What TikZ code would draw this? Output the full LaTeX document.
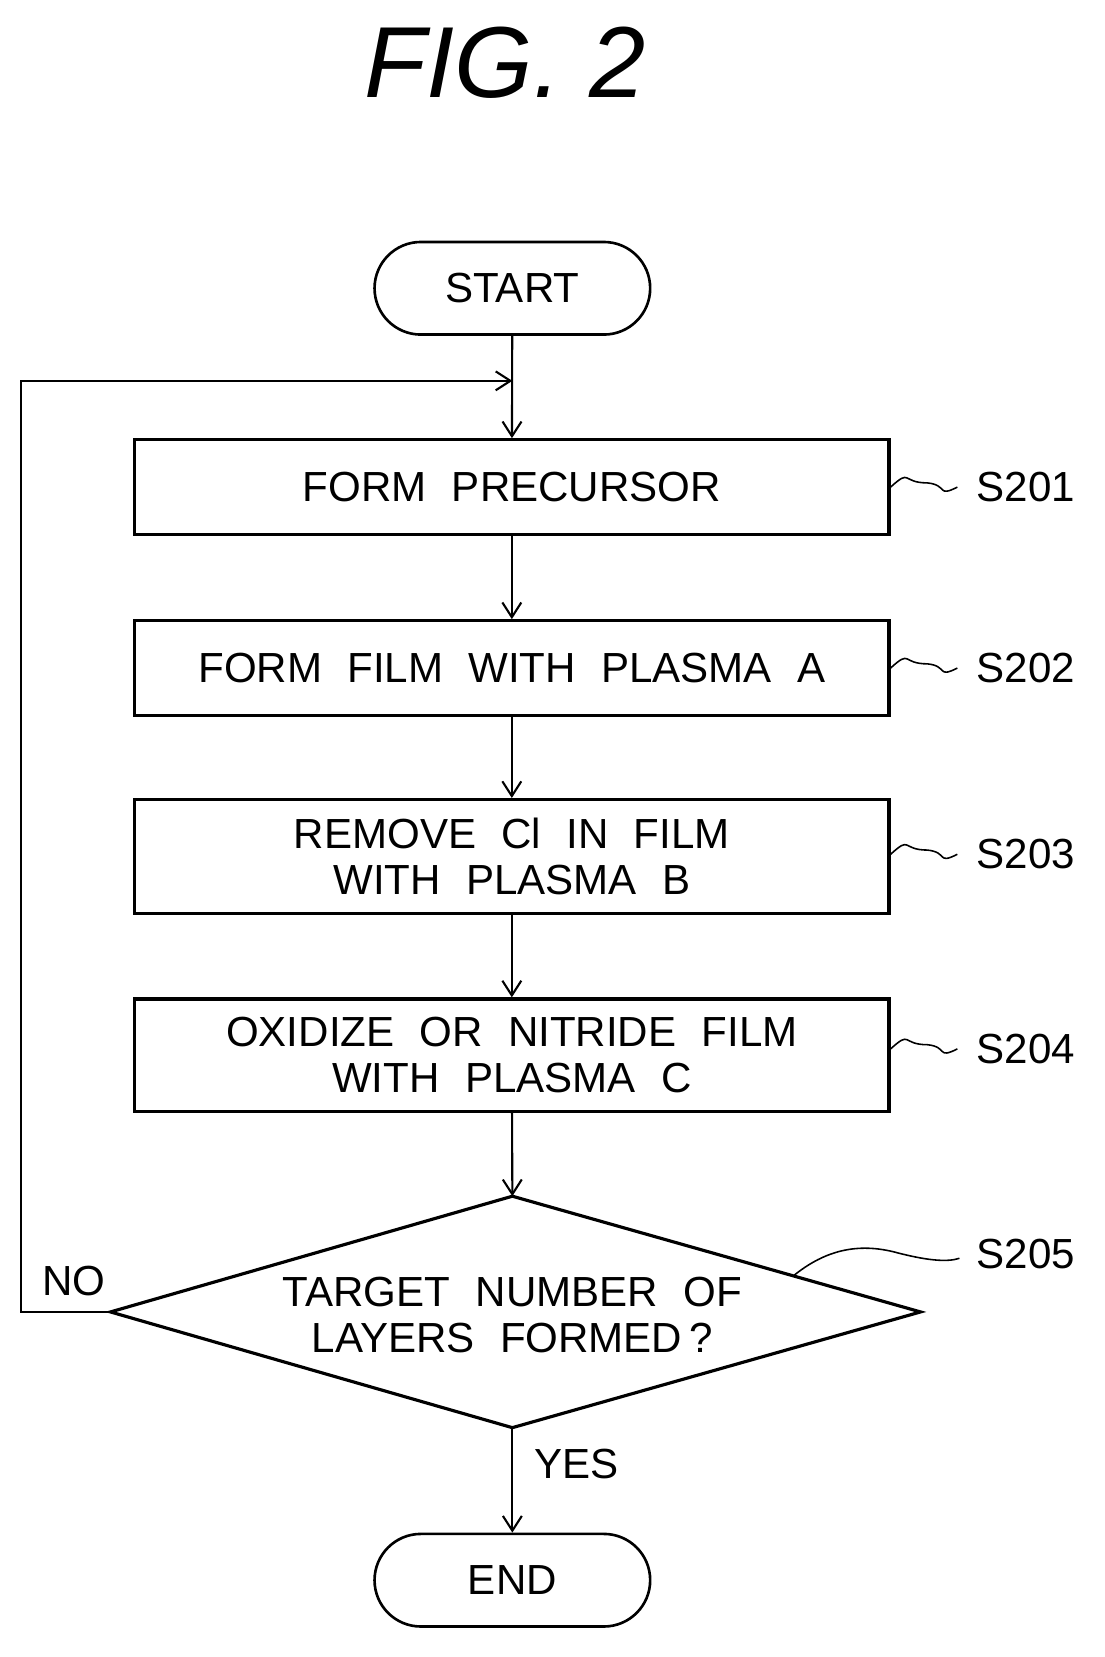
\documentclass[tikz,border=0pt]{standalone}
\usepackage{fontspec}
\setmainfont{Liberation Sans}
\usetikzlibrary{shapes.geometric,arrows.meta}
\begin{document}
\begin{tikzpicture}[x=1pt,y=-1pt,
  box/.style={draw,line width=3pt,minimum width=717pt,align=center,font=\fontsize{40}{44}\selectfont},
  term/.style={draw,line width=2.5pt,rounded corners=44pt,minimum width=262pt,minimum height=88pt,font=\fontsize{40}{44}\selectfont},
  arr/.style={line width=2pt,-{Straight Barb[length=14pt,width=18pt,line width=2pt]}},
  lead/.style={line width=1.5pt},
  lab/.style={font=\fontsize{40}{44}\selectfont,anchor=west}]
\useasboundingbox (0,0) rectangle (1050,1575);
\node[font=\itshape\fontsize{96}{100}\selectfont] (title) at (480,60) {FIG. 2};
\node[term] (start) at (487,274) {START};
\node[box,minimum height=90pt] (b1) at (486.5,463) {FORM\hspace{0.6em}PRECURSOR};
\node[box,minimum height=90pt] (b2) at (486.5,635) {FORM\hspace{0.6em}FILM\hspace{0.6em}WITH\hspace{0.6em}PLASMA\hspace{0.6em}A};
\node[box,minimum height=108pt] (b3) at (486.5,814) {REMOVE\hspace{0.6em}Cl\hspace{0.6em}IN\hspace{0.6em}FILM\\WITH\hspace{0.6em}PLASMA\hspace{0.6em}B};
\node[box,minimum height=107pt] (b4) at (486.5,1003) {OXIDIZE\hspace{0.6em}OR\hspace{0.6em}NITRIDE\hspace{0.6em}FILM\\WITH\hspace{0.6em}PLASMA\hspace{0.6em}C};
\node[font=\fontsize{40}{44}\selectfont,align=center] (dtext) at (487,1250) {TARGET\hspace{0.6em}NUMBER\hspace{0.6em}OF\\LAYERS\hspace{0.6em}FORMED\,?};
\coordinate (dt) at (487,1137); \coordinate (dl) at (105,1247);
\coordinate (dr) at (875,1247); \coordinate (db) at (487,1357);
\draw[line width=3pt,line join=miter] (dt) -- (dr) -- (db) -- (dl) -- cycle;
\node[term] (end) at (487,1502) {END};
\coordinate (c1) at (20,1247); \coordinate (c2) at (20,362); \coordinate (c3) at (487,362);
\draw[arr] (start) -- (b1);
\draw[arr] (b1) -- (b2);
\draw[arr] (b2) -- (b3);
\draw[arr] (b3) -- (b4);
\draw[arr] (b4) -- (dt);
\draw[arr] (db) -- (end);
\draw[arr] (dl) -- (c1) -- (c2) -- (c3);
\node[font=\fontsize{40}{44}\selectfont] (no) at (70,1218) {NO};
\node[font=\fontsize{40}{44}\selectfont] (yes) at (548,1392) {YES};
\foreach \n/\y/\t in {b1/463/S201,b2/635/S202,b3/812/S203,b4/997/S204}{
  \coordinate (l\n) at (910,\y);
  \draw[lead] (\n.east |- 0,\y) .. controls +(20,-18) and +(-25,0) .. +(35,-4) .. controls +(20,2) and +(-20,10) .. (l\n);
  \node[lab] (s\n) at (925,\y) {\t};
}
\coordinate (d1) at (755,1212); \coordinate (ld) at (912,1196);
\draw[lead] (d1) .. controls (780,1192) and (810,1180) .. (850,1190) .. controls (880,1198) and (900,1200) .. (ld);
\node[lab] (s205) at (925,1192) {S205};
\end{tikzpicture}
\end{document}
